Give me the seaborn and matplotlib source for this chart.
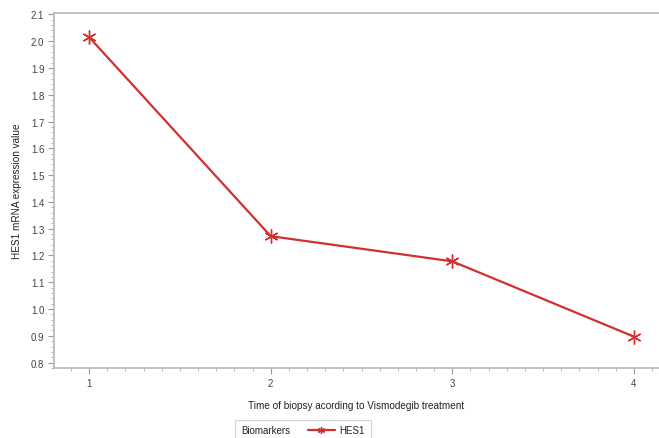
import matplotlib
matplotlib.use("Agg")
import matplotlib.pyplot as plt
import seaborn as sns
import pandas as pd
import numpy as np
from matplotlib.ticker import MultipleLocator
from matplotlib.offsetbox import HPacker

times = [1, 2, 3, 4]
hes1 = [2.015, 1.272, 1.178, 0.897]
series = ["HES1"] * 4

df = pd.DataFrame({"time": times, "value": hes1, "Biomarkers": series})

sns.set_theme(style="white")
plt.rcParams['font.family'] = ['Liberation Sans', 'DejaVu Sans']

fig = plt.figure(figsize=(6.59, 4.39), dpi=100)
ax = fig.add_axes([0.082, 0.1595, 0.918, 0.8086])

red = "#d03030"
sns.lineplot(data=df, x="time", y="value", hue="Biomarkers", palette=[red],
             marker=(6, 2, 0), markersize=10, markeredgecolor=red,
             markeredgewidth=1.0, linewidth=1.6, ax=ax, legend=True)

ax.set_xlim(0.807, 4.138)
ax.set_ylim(0.78, 2.105)
ax.xaxis.set_major_locator(MultipleLocator(1))
ax.xaxis.set_minor_locator(MultipleLocator(0.1))
ax.yaxis.set_major_locator(MultipleLocator(0.1))
ax.yaxis.set_minor_locator(MultipleLocator(0.02))
ax.yaxis.set_major_formatter(matplotlib.ticker.FormatStrFormatter("%.1f"))

gray = "#b8b8b8"
for s in ["left", "bottom", "top"]:
    ax.spines[s].set_color(gray)
    ax.spines[s].set_linewidth(1.2)
ax.spines["right"].set_visible(False)
ax.tick_params(axis="both", which="major", direction="out", length=4, width=0.8,
               color="#999999", labelsize=7, labelcolor="#444444", pad=3,
               bottom=True, left=True)
ax.tick_params(axis="both", which="minor", direction="out", length=2, width=0.6,
               color="#b0b0b0", bottom=True, left=True)

ax.set_xlabel("Time of biopsy acording to Vismodegib treatment", fontsize=7.2,
              color="#222222", labelpad=9)
ax.set_ylabel("HES1 mRNA expression value", fontsize=7.2, color="#222222", labelpad=6)

# legend: title placed to the left of the entry
ax.get_legend().remove()
h, l = ax.get_legend_handles_labels()
leg = ax.legend(h, l, title="Biomarkers", loc="center",
                bbox_to_anchor=(303 / 659, 7.5 / 439), bbox_transform=fig.transFigure,
                fontsize=7, title_fontsize=7, frameon=True, fancybox=False,
                edgecolor="#c8c8c8", handlelength=2.8, handletextpad=0.5,
                borderpad=0.6, markerscale=0.5)
leg.get_frame().set_linewidth(0.8)
leg.get_title().set_color("#222222")
for t in leg.get_texts():
    t.set_color("#222222")
fs = leg._fontsize
newbox = HPacker(pad=leg.borderpad * fs, sep=1.8 * fs, align="center",
                 children=[leg._legend_title_box, leg._legend_handle_box])
newbox.set_figure(fig)
newbox.axes = ax
leg._legend_box = newbox
leg._set_loc(leg._loc)

fig.savefig("out.png", dpi=100)
